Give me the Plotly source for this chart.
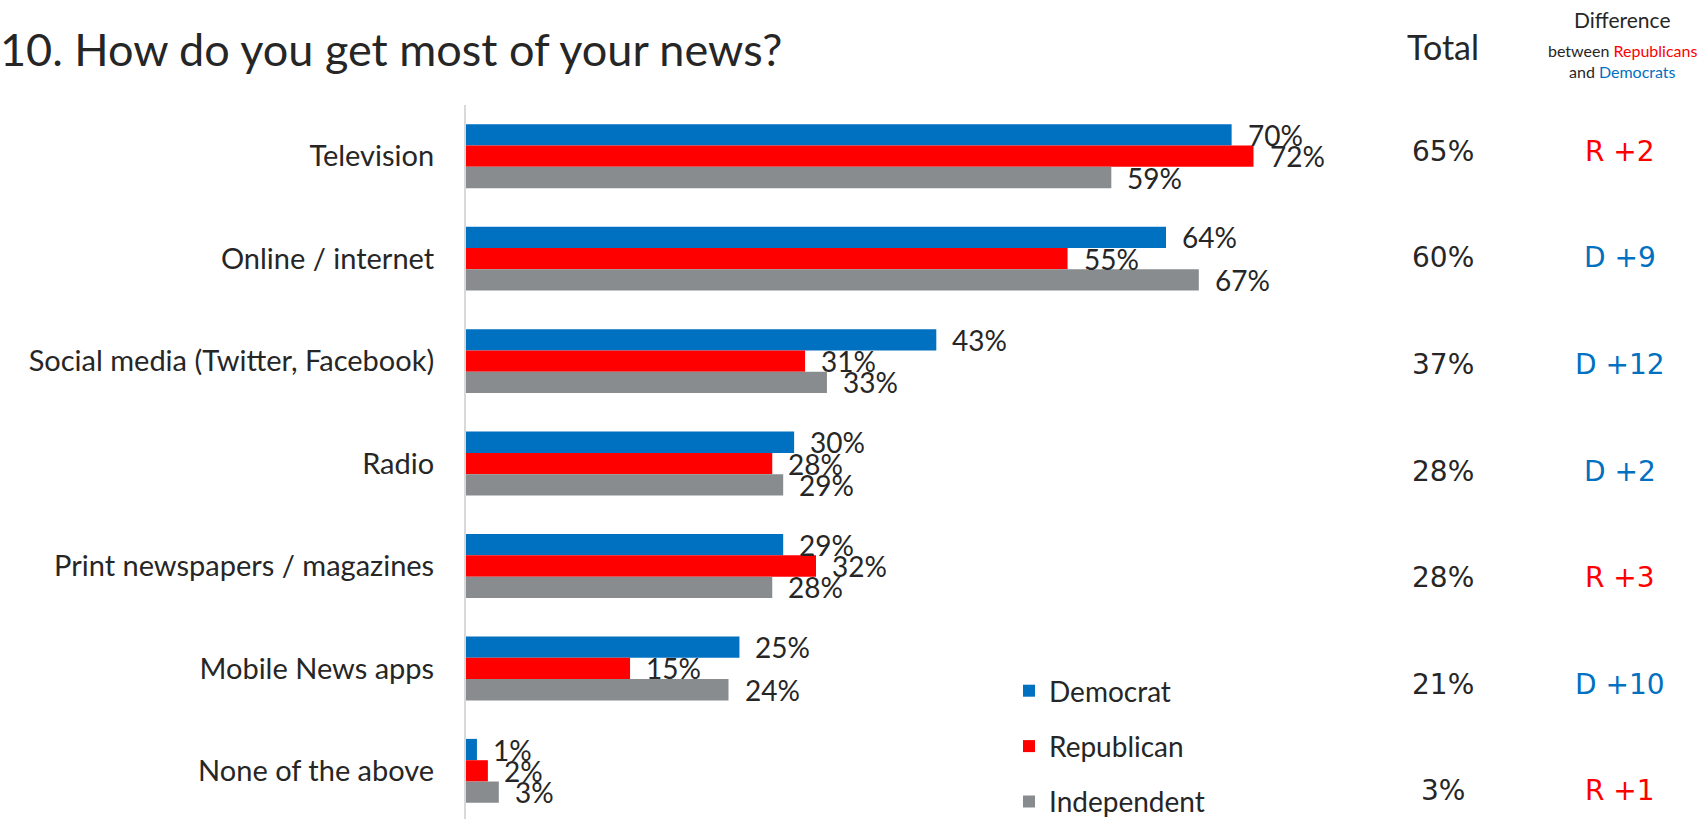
import plotly.graph_objects as go

# Survey question 10: main news sources by party
categories = [
    "Television",
    "Online / internet",
    "Social media (Twitter, Facebook)",
    "Radio",
    "Print newspapers / magazines",
    "Mobile News apps",
    "None of the above",
]
democrat = [70, 64, 43, 30, 29, 25, 1]
republican = [72, 55, 31, 28, 32, 15, 2]
independent = [59, 67, 33, 29, 28, 24, 3]
totals = ["65%", "60%", "37%", "28%", "28%", "21%", "3%"]
differences = ["R +2", "D +9", "D +12", "D +2", "R +3", "D +10", "R +1"]

series = [
    ("Democrat", democrat, "#0070C0"),
    ("Republican", republican, "#FF0000"),
    ("Independent", independent, "#898C8E"),
]

LABEL_FONT = "Lato"
TEXT = "#262626"
BAR_H = 0.208          # bar thickness in row units
ROW_STEP = 1.041       # spacing of the right-hand columns, in row units
ROW_START = -0.05

W, H = 1705, 819
M_L, M_R, M_T, M_B = 466, 364, 105, 0
PLOT_W = W - M_L - M_R
PLOT_H = H - M_T - M_B


def px_x(x):
    """Pixel x position -> plot-area paper fraction."""
    return (x - M_L) / PLOT_W


def px_y(y):
    """Pixel y position (from top) -> plot-area paper fraction."""
    return (H - M_B - y) / PLOT_H


fig = go.Figure()
rows = list(range(len(categories)))

for k, (name, vals, color) in enumerate(series):
    ypos = [r + (k - 1) * BAR_H for r in rows]
    fig.add_trace(go.Bar(
        name=name,
        x=vals,
        y=ypos,
        orientation="h",
        width=BAR_H,
        marker=dict(color=color, line=dict(width=0)),
        legendgroup=name,
        hoverinfo="skip",
    ))
    for v, yp in zip(vals, ypos):
        fig.add_annotation(
            x=v, y=yp, xref="x", yref="y",
            text=f"{v}%", showarrow=False,
            xanchor="left", yanchor="middle", xshift=14,
            font=dict(family=LABEL_FONT, size=28, color=TEXT),
        )

# Total and difference columns
for r, (tot, diff) in enumerate(zip(totals, differences)):
    yv = ROW_START + r * ROW_STEP
    fig.add_annotation(
        x=px_x(1443), y=yv, xref="paper", yref="y", text=tot, showarrow=False,
        xanchor="center", yanchor="middle",
        font=dict(family="DejaVu Sans", size=28, color=TEXT),
    )
    fig.add_annotation(
        x=px_x(1620), y=yv, xref="paper", yref="y", text=diff, showarrow=False,
        xanchor="center", yanchor="middle",
        font=dict(family="DejaVu Sans", size=28,
                  color="#FF0000" if diff.startswith("R") else "#0070C0"),
    )

# Column headers
fig.add_annotation(
    x=px_x(1443), y=px_y(46), xref="paper", yref="paper", text="Total",
    showarrow=False, xanchor="center", yanchor="middle",
    font=dict(family=LABEL_FONT, size=34, color=TEXT),
)
header_lines = [
    ("Difference", 20, 21),
    ("between <span style='color:#FF0000'>Republicans</span>", 50, 16),
    ("and <span style='color:#0070C0'>Democrats</span>", 72, 16),
]
for txt, ypx, size in header_lines:
    fig.add_annotation(
        x=px_x(1622), y=px_y(ypx), xref="paper", yref="paper", text=txt,
        showarrow=False, xanchor="center", yanchor="middle",
        font=dict(family=LABEL_FONT, size=size, color=TEXT),
    )

fig.update_layout(
    width=W, height=H,
    margin=dict(l=M_L, r=M_R, t=M_T, b=M_B, autoexpand=False),
    paper_bgcolor="white", plot_bgcolor="white",
    barmode="overlay",
    showlegend=True,
    legend=dict(
        x=px_x(1009), y=px_y(666), xanchor="left", yanchor="top",
        font=dict(family=LABEL_FONT, size=28, color=TEXT),
        tracegroupgap=16, traceorder="grouped",
        bgcolor="rgba(0,0,0,0)", itemwidth=30,
    ),
    title=dict(
        text="10. How do you get most of your news?",
        x=0.0, xref="container", xanchor="left",
        y=1 - 50 / H, yref="container", yanchor="middle",
        font=dict(family=LABEL_FONT, size=45, color=TEXT),
        pad=dict(l=0, t=0, b=0, r=0),
    ),
    xaxis=dict(range=[0, 80], visible=False, fixedrange=True),
    yaxis=dict(
        range=[6.47, -0.5], tickmode="array", tickvals=rows, ticktext=categories,
        showline=True, linecolor="#D9D9D9", linewidth=2, showgrid=False,
        zeroline=False, ticks="", ticklabelstandoff=24,
        tickfont=dict(family=LABEL_FONT, size=29, color=TEXT),
    ),
)

fig.write_html("out.html")
